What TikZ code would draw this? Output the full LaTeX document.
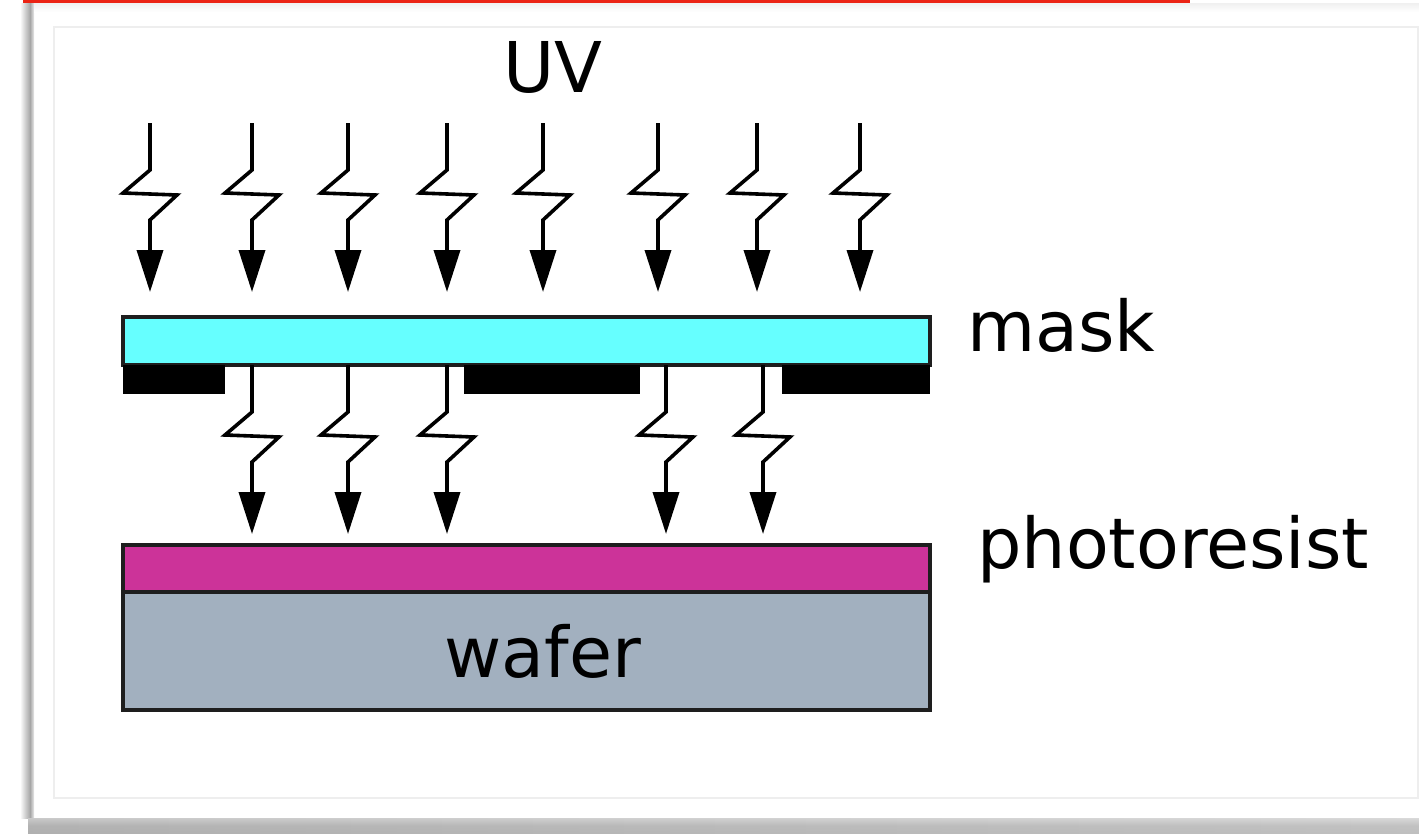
\documentclass[tikz,border=0pt]{standalone}
\usepackage{fontspec}
\setmainfont{DejaVu Sans}
\usetikzlibrary{arrows.meta}
\definecolor{maskcyan}{RGB}{102,255,255}
\definecolor{resistmag}{RGB}{204,51,153}
\definecolor{wafergray}{RGB}{162,176,191}
\definecolor{edgedark}{RGB}{30,30,30}
\definecolor{redbar}{RGB}{235,35,20}
\definecolor{framegray}{RGB}{238,238,238}
\tikzset{
  layer/.style={draw=edgedark, line width=3.8pt},
  chrome/.style={fill=black},
  ray/.style={line width=3.6pt, line join=miter, -{Triangle[width=26pt,length=42pt]}},
  lbl/.style={inner sep=0pt, font=\fontsize{70}{84}\selectfont, text=black},
}
\newcommand\uvray[2]{%
  \draw[ray] (#1,#2) -- (#1,#2+47) -- (#1-27,#2+70) -- (#1+27,#2+72) -- (#1,#2+97) -- (#1,#2+169);}
\begin{document}
\begin{tikzpicture}[x=1pt,y=-1pt]
\useasboundingbox (0,0) rectangle (1419,833);
% frame and shadows
\fill[white] (0,0) rectangle (1419,833);
\shade[left color=white, right color=black!35] (20,3) rectangle (30,818);
\shade[left color=black!35, right color=black!8] (30,3) rectangle (34,818);
\shade[top color=black!6, bottom color=white] (34,3) rectangle (1419,12);
\shade[top color=black!30, bottom color=black!50, middle color=black!48] (28,818) rectangle (1419,833);
\shade[left color=black!12, right color=white, opacity=0.5] (28,818) rectangle (1419,833);
\fill[redbar] (23,0) rectangle (1190,2.5);
\draw[framegray, line width=2pt] (54,27) rectangle (1418,798);
% mask
\draw[layer, fill=maskcyan] (123,317) rectangle (930,365);
\fill[chrome] (123,365) rectangle (225,394);
\fill[chrome] (464,365) rectangle (640,394);
\fill[chrome] (782,365) rectangle (930,394);
% incoming UV rays
\foreach \x in {150,252,348,447,543,658,757,860} {\uvray{\x}{123}}
% transmitted rays
\foreach \x in {252,348,447,666,763} {\uvray{\x}{365}}
% photoresist and wafer
\draw[layer, fill=resistmag] (123,545) rectangle (930,592);
\draw[layer, fill=wafergray] (123,592) rectangle (930,710);
% labels
\node[lbl, anchor=base] (uv) at (553,92) {UV};
\node[lbl, anchor=base west] (mask) at (967,351) {mask};
\node[lbl, anchor=base west] (pr) at (977,568) {photoresist};
\node[lbl, anchor=base] (wafer) at (543,677) {wafer};
\end{tikzpicture}
\end{document}
